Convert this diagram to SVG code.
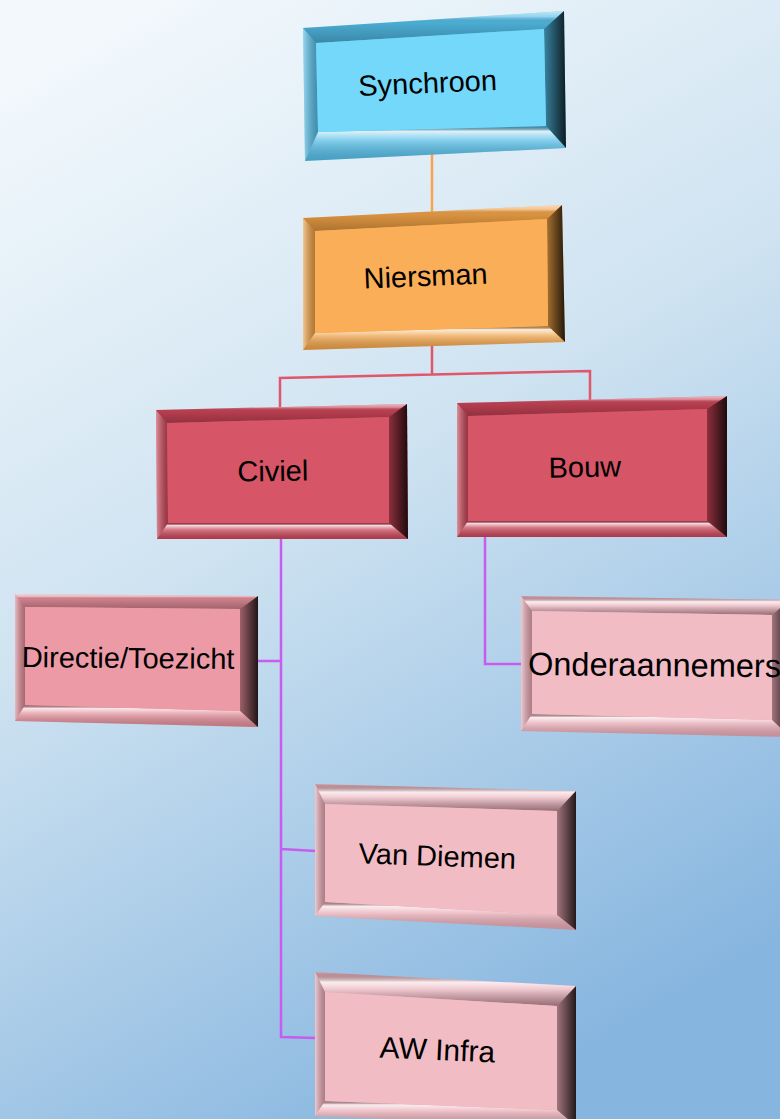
<svg xmlns="http://www.w3.org/2000/svg" width="780" height="1119" viewBox="0 0 780 1119">
  <defs>
    <linearGradient id="bg" x1="0.2" y1="0" x2="0.6" y2="1">
      <stop offset="0" stop-color="#f2f8fc"/>
      <stop offset="0.45" stop-color="#cfe3f1"/>
      <stop offset="1" stop-color="#86b5df"/>
    </linearGradient>
    <linearGradient id="gTop" x1="0" y1="0" x2="0" y2="1">
      <stop offset="0" stop-color="#fff" stop-opacity="0.65"/>
      <stop offset="0.18" stop-color="#fff" stop-opacity="0.35"/>
      <stop offset="0.35" stop-color="#000" stop-opacity="0.08"/>
      <stop offset="1" stop-color="#000" stop-opacity="0.28"/>
    </linearGradient>
    <linearGradient id="gTopLow" x1="0" y1="0" x2="0" y2="1">
      <stop offset="0" stop-color="#000" stop-opacity="0.05"/>
      <stop offset="0.3" stop-color="#fff" stop-opacity="0.8"/>
      <stop offset="0.5" stop-color="#fff" stop-opacity="0.4"/>
      <stop offset="1" stop-color="#000" stop-opacity="0.35"/>
    </linearGradient>
    <linearGradient id="gBottom" x1="0" y1="0" x2="0" y2="1">
      <stop offset="0" stop-color="#000" stop-opacity="0.25"/>
      <stop offset="0.15" stop-color="#fff" stop-opacity="0.8"/>
      <stop offset="0.4" stop-color="#fff" stop-opacity="0.3"/>
      <stop offset="1" stop-color="#000" stop-opacity="0.15"/>
    </linearGradient>
    <linearGradient id="gLeft" x1="0" y1="0" x2="1" y2="0">
      <stop offset="0" stop-color="#fff" stop-opacity="0.4"/>
      <stop offset="1" stop-color="#000" stop-opacity="0.25"/>
    </linearGradient>
    <linearGradient id="gRight" x1="0" y1="0" x2="1" y2="0">
      <stop offset="0" stop-color="#000" stop-opacity="0.3"/>
      <stop offset="1" stop-color="#000" stop-opacity="0.85"/>
    </linearGradient>
  </defs>
  <style>
    .t { font-family: "Liberation Sans", Arial, sans-serif; font-size: 29px; fill: #000; text-anchor: middle; }
    .c { fill: none; stroke-width: 2.5; }
    .blue .bev { fill: #52bce6; } .blue .face { fill: #74d8fb; }
    .orange .bev { fill: #eea045; } .orange .face { fill: #fbae58; }
    .red .bev { fill: #c94457; } .red .face { fill: #d65567; }
    .pinkm .bev { fill: #df8a96; } .pinkm .face { fill: #ec9ba6; }
    .pinkl .bev { fill: #e6a7b2; } .pinkl .face { fill: #f2bcc5; }
    .top { fill: url(#gTop); } .topl { fill: url(#gTopLow); } .bot { fill: url(#gBottom); }
    .lft { fill: url(#gLeft); } .rgt { fill: url(#gRight); }
  </style>

  <rect x="0" y="0" width="780" height="1119" fill="url(#bg)"/>

  <g id="connectors">
    <path class="c" stroke="#f6a44e" stroke-width="2" d="M432,152 V214"/>
    <path class="c" stroke="#e0566c" d="M432,345 V375 M280,409 V378 L590,371 V400"/>
    <path class="c" stroke="#c65cf0" d="M281,539 V1037 L316,1038 M257,661 H281 M281,849 L316,851 M485,537 V664 H522"/>
  </g>

  <g id="node-synchroon" class="blue">
    <polygon class="bev" points="303,28 564,11 566,148 305,161"/>
    <polygon class="top" points="303,28 564,11 544,29 316,43"/>
    <polygon class="rgt" points="564,11 566,148 546,126 544,29"/>
    <polygon class="bot" points="318,132 546,126 566,148 305,161"/>
    <polygon class="lft" points="303,28 316,43 318,132 305,161"/>
    <polygon class="face" points="316,43 544,29 546,126 318,132"/>
    <text class="t" x="428" y="93" transform="rotate(-2.5 428 93)">Synchroon</text>
  </g>

  <g id="node-niersman" class="orange">
    <polygon class="bev" points="303,218 562,205 565,342 303,350"/>
    <polygon class="top" points="303,218 562,205 547,219 315,231"/>
    <polygon class="rgt" points="562,205 565,342 548,326 547,219"/>
    <polygon class="bot" points="315,333 548,326 565,342 303,350"/>
    <polygon class="lft" points="303,218 315,231 315,333 303,350"/>
    <polygon class="face" points="315,231 547,219 548,326 315,333"/>
    <text class="t" x="426" y="286" transform="rotate(-2.3 426 286)">Niersman</text>
  </g>

  <g id="node-civiel" class="red">
    <polygon class="bev" points="156,410 407,404 408,539 157,539"/>
    <polygon class="top" points="156,410 407,404 389,417 167,423"/>
    <polygon class="rgt" points="407,404 408,539 389,523 389,417"/>
    <polygon class="bot" points="168,523 389,523 408,539 157,539"/>
    <polygon class="lft" points="156,410 167,423 168,523 157,539"/>
    <polygon class="face" points="167,423 389,417 389,523 168,523"/>
    <text class="t" x="273" y="481" transform="rotate(-1 273 481)">Civiel</text>
  </g>

  <g id="node-bouw" class="red">
    <polygon class="bev" points="457,403 727,396 727,537 457,537"/>
    <polygon class="top" points="457,403 727,396 707,409 468,416"/>
    <polygon class="rgt" points="727,396 727,537 707,521 707,409"/>
    <polygon class="bot" points="468,521 707,521 727,537 457,537"/>
    <polygon class="lft" points="457,403 468,416 468,521 457,537"/>
    <polygon class="face" points="468,416 707,409 707,521 468,521"/>
    <text class="t" x="585" y="477" transform="rotate(-1 585 477)">Bouw</text>
  </g>

  <g id="node-directie" class="pinkm">
    <polygon class="bev" points="15,594 258,596 258,727 15,721"/>
    <polygon class="top" points="15,594 258,596 240,609 25,607"/>
    <polygon class="rgt" points="258,596 258,727 240,711 240,609"/>
    <polygon class="bot" points="25,705 240,711 258,727 15,721"/>
    <polygon class="lft" points="15,594 25,607 25,705 15,721"/>
    <polygon class="face" points="25,607 240,609 240,711 25,705"/>
    <text class="t" x="128" y="668" style="font-size:29px" transform="rotate(0.5 128 668)">Directie/Toezicht</text>
  </g>

  <g id="node-onderaannemers" class="pinkl">
    <polygon class="bev" points="521,596 790,600 790,737 521,731"/>
    <polygon class="topl" points="521,596 790,600 772,615 532,611"/>
    <polygon class="rgt" points="790,600 790,737 772,720 772,615"/>
    <polygon class="bot" points="532,714 772,720 790,737 521,731"/>
    <polygon class="lft" points="521,596 532,611 532,714 521,731"/>
    <polygon class="face" points="532,611 772,615 772,720 532,714"/>
    <text class="t" x="528" y="675" style="font-size:32.5px;text-anchor:start" transform="rotate(0.5 528 675)">Onderaannemers</text>
  </g>

  <g id="node-vandiemen" class="pinkl">
    <polygon class="bev" points="315,784 576,791 576,930 315,916"/>
    <polygon class="topl" points="315,784 576,791 557,811 325,804"/>
    <polygon class="rgt" points="576,791 576,930 557,915 557,811"/>
    <polygon class="bot" points="325,902 557,915 576,930 315,916"/>
    <polygon class="lft" points="315,784 325,804 325,902 315,916"/>
    <polygon class="face" points="325,804 557,811 557,915 325,902"/>
    <text class="t" x="437" y="866" transform="rotate(2 437 866)">Van Diemen</text>
  </g>

  <g id="node-awinfra" class="pinkl">
    <polygon class="bev" points="315,972 576,986 576,1126 315,1116"/>
    <polygon class="topl" points="315,972 576,986 557,1006 325,992"/>
    <polygon class="rgt" points="576,986 576,1126 557,1110 557,1006"/>
    <polygon class="bot" points="325,1101 557,1110 576,1126 315,1116"/>
    <polygon class="lft" points="315,972 325,992 325,1101 315,1116"/>
    <polygon class="face" points="325,992 557,1006 557,1110 325,1101"/>
    <text class="t" x="437" y="1060" style="font-size:30px" transform="rotate(2.5 437 1060)">AW Infra</text>
  </g>
</svg>
